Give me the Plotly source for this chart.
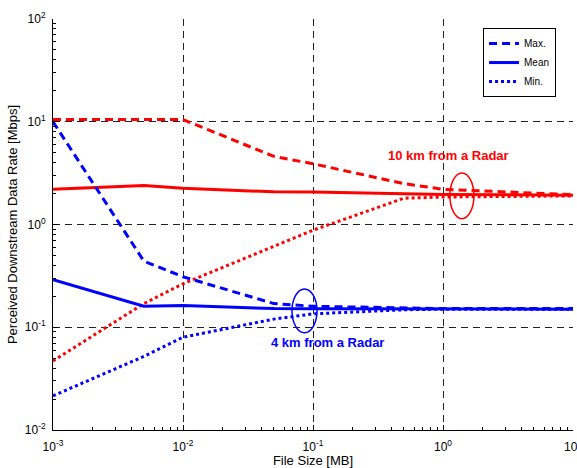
import plotly.graph_objects as go

# File sizes [MB]
file_size = [0.001, 0.005, 0.01, 0.05, 0.1, 0.5, 1, 10]

# Perceived downstream data rate [Mbps], 10 km from a radar
red_max = [10.5, 10.5, 10.5, 4.6, 3.9, 2.5, 2.2, 1.95]
red_mean = [2.2, 2.4, 2.25, 2.08, 2.07, 1.98, 1.96, 1.93]
red_min = [0.047, 0.17, 0.265, 0.61, 0.88, 1.8, 1.85, 1.9]

# Perceived downstream data rate [Mbps], 4 km from a radar
blue_max = [10.0, 0.44, 0.31, 0.17, 0.16, 0.155, 0.152, 0.152]
blue_mean = [0.29, 0.16, 0.163, 0.152, 0.151, 0.15, 0.15, 0.15]
blue_min = [0.0215, 0.052, 0.08, 0.12, 0.135, 0.148, 0.15, 0.15]

legend_names = ["Max.", "Mean", "Min."]
dashes = ["8px,5px", "solid", "3px,3px"]

x_ticks = [0.001, 0.01, 0.1, 1, 10]
x_ticktext = ["10<sup>-3</sup>", "10<sup>-2</sup>", "10<sup>-1</sup>", "10<sup>0</sup>", "10<sup>1</sup>"]
y_ticks = [0.01, 0.1, 1, 10, 100]
y_ticktext = ["10<sup>-2</sup>", "10<sup>-1</sup>", "10<sup>0</sup>", "10<sup>1</sup>", "10<sup>2</sup>"]

fig = go.Figure()

for series, dash in zip([red_max, red_mean, red_min], dashes):
    fig.add_trace(go.Scatter(x=file_size, y=series, mode="lines",
                             line=dict(color="#ff0000", width=3, dash=dash),
                             showlegend=False))

for series, dash, name in zip([blue_max, blue_mean, blue_min], dashes, legend_names):
    fig.add_trace(go.Scatter(x=file_size, y=series, mode="lines", name=name,
                             line=dict(color="#0000ff", width=3, dash=dash)))

# Ellipses marking where the curves converge
fig.add_shape(type="circle", xref="x", yref="y", x0=1.13, x1=1.73, y0=1.14, y1=3.18,
              line=dict(color="#ff0000", width=1.5))
fig.add_shape(type="circle", xref="x", yref="y", x0=0.0689, x1=0.1074, y0=0.0885, y1=0.2355,
              line=dict(color="#0000ff", width=1.5))

# Annotation positions on log axes are given in log10 units
fig.add_annotation(x=0.04, y=0.667, xref="x", yref="y", text="<b>10 km from a Radar</b>",
                   showarrow=False, font=dict(color="#ff0000", size=13))
fig.add_annotation(x=-0.885, y=-1.15, xref="x", yref="y", text="<b>4 km from a Radar</b>",
                   showarrow=False, font=dict(color="#0000ff", size=13))

axis_common = dict(
    type="log", automargin=False,
    showline=True, linecolor="black", linewidth=1,
    ticks="inside", ticklen=5, tickcolor="black",
    showgrid=True, gridcolor="#222222", gridwidth=1, griddash="7px,5px",
    minor=dict(ticks="inside", ticklen=3, tickcolor="black", dtick="D1", showgrid=False),
    zeroline=False, mirror=False, ticklabeloverflow="allow",
    tickfont=dict(family="Liberation Sans, Arial", size=12, color="black"),
)

fig.update_xaxes(**axis_common, range=[-3, 1], tickvals=x_ticks, ticktext=x_ticktext,
                 ticklabelstandoff=6,
                 title=dict(text="File Size [MB]", font=dict(family="Liberation Sans, Arial", size=13, color="black"),
                            standoff=2))
fig.update_yaxes(**axis_common, range=[-2, 2], tickvals=y_ticks, ticktext=y_ticktext,
                 ticklabelstandoff=4,
                 title=dict(text="Perceived Downstream Data Rate [Mbps]",
                            font=dict(family="Liberation Sans, Arial", size=13, color="black"),
                            standoff=4))

fig.update_layout(
    width=577, height=468,
    margin=dict(l=53, r=4, t=19, b=38),
    paper_bgcolor="white", plot_bgcolor="white",
    font=dict(family="Liberation Sans, Arial", color="black"),
    legend=dict(x=0.827, y=0.978, xanchor="left", yanchor="top",
                bgcolor="white", bordercolor="black", borderwidth=1,
                font=dict(size=10, color="black"), tracegroupgap=0, itemwidth=30),
)

fig.write_html("out.html")
